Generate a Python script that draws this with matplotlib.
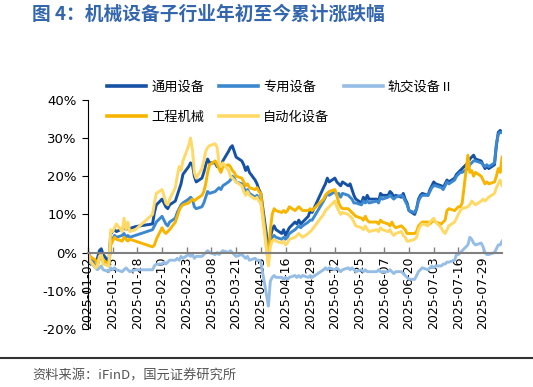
import matplotlib

matplotlib.use("Agg")

import matplotlib.pyplot as plt
from matplotlib.lines import Line2D
from matplotlib.ticker import FuncFormatter
import pandas as pd

plt.rcParams['font.family'] = ['Noto Sans CJK SC', 'DejaVu Sans']

# trading calendar 2025 (A-share holidays removed)
holidays = ['2025-01-28', '2025-01-29', '2025-01-30', '2025-01-31', '2025-02-03',
            '2025-02-04', '2025-04-04', '2025-05-01', '2025-05-02', '2025-05-05',
            '2025-06-02']
dates = pd.bdate_range('2025-01-02', '2025-08-08')
dates = dates[~dates.isin(pd.to_datetime(holidays))]

tick_dates = pd.date_range('2025-01-02', '2025-07-29', freq='13D')

# cumulative change since start of year, %
tongyong = [
    0, -1.0, -2.5, -1.5, 0.5, 1.0, -0.5, -2.5, 5.0, 5.5, 6.0, 5.5, 6.2, 6.8, 6.0, 6.5, 6.3, 6.8,
    7.5, 10.5, 12.5, 14.0, 13.0, 12.0, 11.5, 12.5, 13.5, 15.0, 16.5, 18.0, 20.5, 22.5, 23.5, 23.0, 20.0, 18.5,
    19.5, 21.0, 23.0, 24.5, 23.5, 23.5, 22.5, 23.0, 22.0, 24.0, 26.5, 27.5, 28.0, 26.5, 25.0, 24.0, 23.0, 21.5, 22.5, 21.0, 19.0,
    18.0, 16.5, 15.5, 1.0, 4.0, 6.0, 7.0, 6.0, 5.0, 6.0, 4.5, 5.5, 6.5, 8.0, 7.5, 8.5, 7.5, 8.0, 9.5, 11.0, 10.5,
    17.0, 18.0, 19.5, 18.5, 19.5, 18.5, 18.0, 17.5, 18.5, 17.5, 18.0, 16.5, 15.0, 14.0, 13.0, 14.5, 13.5, 15.0, 14.0,
    14.0, 13.5, 15.5, 15.0, 15.0, 16.0, 15.5, 14.5, 15.0, 14.5, 15.5, 14.0, 13.0, 11.0, 10.0, 11.5, 14.0, 15.0, 15.5, 15.0,
    16.5, 17.5, 18.5, 18.0, 17.5, 17.0, 18.0, 19.0, 18.5, 19.5, 20.5, 21.0, 21.5, 22.0, 23.5, 24.5, 25.0, 25.5, 24.5, 24.0, 23.0, 22.0, 22.5,
    22.0, 23.0, 28.0, 31.5, 32.0, 31.5,
]
zhuanyong = [
    0, -1.5, -3.5, -3.0, -1.5, -1.0, -2.5, -3.5, 2.5, 3.5, 4.5, 4.0, 4.5, 5.0, 4.0, 4.5, 4.0, 4.5,
    6.0, 7.0, 8.0, 9.5, 8.5, 7.5, 7.0, 8.0, 9.0, 10.5, 11.5, 12.5, 13.0, 14.0, 14.5, 14.0, 12.0, 11.5,
    12.0, 13.0, 14.5, 16.0, 15.5, 16.0, 16.5, 17.0, 16.5, 17.5, 18.5, 19.0, 20.0, 19.5, 18.5, 18.0, 17.0, 16.0, 16.5, 15.5, 14.5,
    15.0, 14.0, 13.5, -0.5, 2.5, 4.0, 4.5, 4.0, 3.5, 4.0, 3.5, 4.0, 5.0, 6.0, 6.5, 7.0, 6.5, 7.0, 8.0, 8.5, 8.5,
    13.5, 14.5, 15.5, 15.0, 16.0, 15.0, 15.5, 14.5, 15.5, 15.0, 14.5, 14.0, 13.0, 13.0, 12.5, 13.5, 13.0, 13.5, 13.0,
    13.5, 13.0, 14.5, 14.0, 14.5, 15.0, 14.5, 14.0, 14.5, 15.0, 14.5, 13.5, 12.5, 11.0, 10.5, 11.5, 13.5, 14.5, 15.0, 15.0,
    16.0, 17.0, 17.5, 17.5, 17.0, 16.5, 17.5, 18.5, 18.0, 19.0, 20.0, 20.5, 21.0, 21.0, 22.0, 23.0, 23.5, 24.0, 24.0, 23.5, 23.0, 22.5, 23.0,
    22.5, 23.5, 28.5, 31.0, 31.5, 31.5,
]
guijiao = [
    0, -2.5, -4.0, -4.5, -4.0, -3.5, -4.5, -5.0, -4.0, -4.5, -4.0, -4.5, -5.0, -4.5, -4.0, -4.5, -5.0, -4.5,
    -4.5, -3.5, -3.0, -3.0, -2.5, -3.0, -2.5, -2.0, -2.0, -1.5, -2.0, -1.0, -1.5, -0.5, -1.0, -0.5, -1.5, -1.0,
    -1.0, -0.5, 0.0, 0.5, 0.0, -0.5, 0.0, -0.5, 0.0, 0.5, 0.0, 0.5, 0.0, -0.5, -1.0, -0.5, -1.0, -1.5, -1.0, -2.0, -1.5,
    -2.0, -2.0, -2.5, -14.0, -7.5, -6.5, -6.0, -6.5, -6.5, -7.0, -6.5, -7.0, -6.5, -6.0, -6.5, -6.0, -6.5, -6.0, -6.5, -6.0, -6.5,
    -4.5, -4.0, -4.5, -4.0, -4.5, -4.0, -4.5, -5.0, -4.5, -4.0, -4.5, -4.0, -4.5, -5.0, -4.5, -5.0, -4.5, -5.0, -5.0,
    -5.0, -4.5, -5.0, -5.0, -5.0, -4.5, -5.0, -5.5, -5.0, -5.0, -5.5, -6.0, -6.5, -7.0, -7.0, -6.0, -5.0, -4.5, -4.0, -4.5,
    -4.0, -3.5, -4.0, -3.5, -3.5, -3.0, -3.0, -2.5, -2.5, -2.0, -0.5, -0.5, 0.0, 0.5, 2.0, 4.0, 3.5, 2.5, 2.0, 2.5, 1.5, 0.0, -0.5,
    -0.5, 0.0, 1.0, 2.0, 2.0, 3.0,
]
gongcheng = [
    0, -1.0, -2.0, -3.5, -1.5, -0.5, -2.0, -3.0, 2.0, 3.0, 4.0, 3.5, 3.0, 4.0, 3.5, 3.0, 3.5, 3.0,
    1.5, 2.0, 3.5, 6.5, 5.5, 5.0, 5.5, 6.0, 8.0, 9.5, 11.0, 12.0, 12.5, 13.0, 13.5, 14.0, 13.5, 14.0,
    15.0, 16.0, 18.0, 21.0, 23.0, 24.0, 23.0, 22.0, 21.0, 22.5, 23.0, 22.5, 21.5, 21.0, 20.0, 19.5, 18.5, 17.5, 18.0, 17.0, 16.5,
    17.0, 16.0, 15.5, -3.0, 6.0, 10.0, 11.5, 11.0, 10.5, 11.0, 10.5, 11.0, 12.0, 11.0, 11.5, 12.0, 11.5, 11.0, 11.0, 11.5, 11.0,
    14.0, 15.0, 15.5, 16.0, 16.5, 15.0, 13.0, 12.0, 11.5, 11.5, 11.0, 10.5, 10.0, 9.5, 9.0, 8.5, 9.5, 8.5, 8.0,
    8.0, 7.5, 8.5, 8.0, 7.5, 7.0, 8.0, 7.0, 6.5, 7.0, 6.5, 6.0, 5.0, 5.0, 5.0, 5.5, 7.0, 7.5, 8.0, 8.0,
    7.5, 8.0, 8.5, 8.0, 7.5, 8.0, 8.5, 11.0, 11.5, 11.0, 11.5, 12.0, 12.0, 13.0, 25.5, 21.0, 21.5, 20.0, 21.0, 20.0, 19.0, 18.0, 18.5,
    18.0, 18.5, 20.0, 22.0, 21.0, 25.0,
]
zidonghua = [
    0, -2.0, -4.0, -3.5, -1.0, -0.5, -3.0, -3.5, 6.0, 5.5, 6.5, 7.5, 5.5, 9.0, 6.0, 8.0, 5.5, 6.0,
    10.0, 13.0, 15.5, 16.5, 15.0, 13.0, 12.5, 14.0, 17.0, 20.0, 22.5, 21.5, 24.0, 28.0, 30.0, 27.0, 21.0, 19.5,
    22.0, 24.0, 26.5, 27.5, 28.0, 28.5, 27.5, 23.5, 22.5, 23.5, 21.5, 20.0, 19.5, 19.0, 18.5, 17.5, 16.0, 15.0, 16.0, 15.0, 14.0,
    14.5, 13.5, 13.0, -3.5, 1.5, 3.0, 3.5, 3.0, 2.5, 3.0, 2.0, 2.5, 3.5, 4.0, 4.5, 5.0, 4.5, 4.0, 5.0, 5.5, 6.0,
    10.0, 11.0, 11.5, 12.0, 13.5, 12.0, 11.0, 10.0, 10.5, 10.0, 9.5, 9.0, 8.0, 7.0, 6.5, 6.0, 7.0, 6.0, 5.5,
    6.0, 5.5, 6.5, 6.0, 5.5, 6.0, 5.0, 4.5, 5.0, 5.5, 4.5, 4.0, 3.0, 3.0, 3.5, 4.0, 6.0, 7.0, 7.5, 7.0,
    8.0, 8.5, 9.0, 8.0, 6.5, 5.5, 5.0, 6.0, 7.0, 8.0, 9.0, 10.0, 11.0, 11.5, 12.0, 12.5, 13.5, 13.0, 12.5, 13.5, 14.0, 13.5, 14.0,
    14.5, 15.5, 17.0, 18.0, 19.0, 17.5,
]

names = ['通用设备', '专用设备', '轨交设备Ⅱ', '工程机械', '自动化设备']
series = [tongyong, zhuanyong, guijiao, gongcheng, zidonghua]
colors = ['#1652a3', '#3c88d0', '#95bde6', '#f7b500', '#ffd966']

fig = plt.figure(figsize=(5.33, 3.87), dpi=100)
ax = fig.add_axes([0.165, 0.150, 0.777, 0.592])

handles = []
for name, vals, c in zip(names, series, colors):
    h, = ax.plot(dates, vals, color=c, lw=2.1, label=name, solid_joinstyle='round')
    handles.append(h)

ax.spines['top'].set_visible(False)
ax.spines['right'].set_visible(False)
ax.spines['bottom'].set_position(('data', 0))
ax.spines['bottom'].set_color('#808080')
ax.spines['bottom'].set_linewidth(1.5)
ax.spines['left'].set_linewidth(0.8)
ax.tick_params(axis='x', direction='in', length=4, width=1, color='#808080', pad=3,
               labelrotation=90, labelsize=9)
ax.tick_params(axis='y', direction='out', length=4, width=0.8, pad=4, labelsize=9.5)

ax.set_ylim(-20, 40)
ax.set_yticks(range(-20, 41, 10))
ax.yaxis.set_major_formatter(FuncFormatter(lambda v, p: f"{v:.0f}%"))
ax.set_xlim(dates[0], dates[-1])
ax.set_xticks(tick_dates)
ax.set_xticklabels([d.strftime('%Y-%m-%d') for d in tick_dates])
for lab in ax.get_xticklabels():
    lab.set_family('DejaVu Sans')
    lab.set_rotation(90)
    lab.set_va('top')
    lab.set_ha('center')
for lab in ax.get_yticklabels():
    lab.set_family('DejaVu Sans')

# row-wise legend order: matplotlib fills columns first
order = [0, 3, 1, 4, 2]
leg = fig.legend([handles[i] for i in order], [names[i] for i in order],
                 loc='upper left', bbox_to_anchor=(0.2008, 0.792), ncol=3, frameon=False,
                 fontsize=9.5, handlelength=2.95, handletextpad=0.4, columnspacing=1.1,
                 labelspacing=1.3, borderpad=0, borderaxespad=0)
for line in leg.get_lines():
    line.set_linewidth(2.6)

fig.text(32 / 533, 1 - 14 / 387, '图 4：机械设备子行业年初至今累计涨跌幅', fontsize=13.5,
         fontweight='bold', color='#3366ad', va='center', ha='left')
fig.add_artist(Line2D([0, 1], [1 - 358 / 387] * 2, color='#333333', lw=1.5))
fig.text(32 / 533, 1 - 376 / 387, '资料来源：iFinD，国元证券研究所', fontsize=9.5,
         color='#555555', va='center', ha='left')

fig.savefig('out.png', dpi=100)
